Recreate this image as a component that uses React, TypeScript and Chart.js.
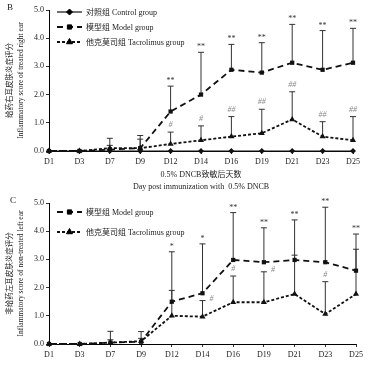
import React, { useEffect, useRef } from 'react';
import { Chart, registerables } from 'chart.js';
import { drawPoint } from 'chart.js/helpers';
Chart.register(...registerables);

const days = ['D1', 'D3', 'D7', 'D9', 'D12', 'D14', 'D16', 'D19', 'D21', 'D23', 'D25'];
const yTickValues = [0, 1, 2, 3, 4, 5];

// Panel B: treated right ear
const bControl = [0, 0, 0, 0, 0, 0, 0, 0, 0, 0, 0];
const bModel = [0, 0, 0.05, 0.1, 1.4, 2.0, 2.88, 2.78, 3.13, 2.88, 3.13];
const bModelSD = [0, 0, 0.4, 0.45, 0.9, 1.5, 0.9, 1.06, 1.36, 1.39, 1.22];
const bTac = [0, 0, 0.1, 0.1, 0.25, 0.38, 0.51, 0.63, 1.12, 0.51, 0.38];
const bTacSD = [0, 0, 0.1, 0.32, 0.42, 0.51, 0.71, 0.85, 0.98, 0.53, 0.84];
const bModelSig = ['', '', '', '', '**', '**', '**', '**', '**', '**', '**'];
const bTacSig = ['', '', '', '', '#', '#', '##', '##', '##', '##', '##'];

// Panel C: non-treated left ear
const cModel = [0, 0, 0.05, 0.08, 1.5, 1.8, 2.98, 2.9, 2.98, 2.9, 2.6];
const cModelSD = [0, 0, 0.4, 0.36, 1.77, 1.75, 1.68, 1.22, 1.42, 1.95, 1.3];
const cTac = [0, 0, 0.05, 0.1, 1.0, 0.97, 1.48, 1.48, 1.77, 1.06, 1.77];
const cTacSD = [0, 0, 0.1, 0.1, 0.9, 0.57, 0.93, 1.08, 1.38, 1.15, 1.59];
const cModelSig = ['', '', '', '', '*', '*', '**', '**', '**', '**', '**'];
const cTacSig = ['', '', '', '', '', '#', '#', '#', '', '#', ''];

const labelControl = '对照组 Control group';
const labelModel = '模型组 Model group';
const labelTac = '他克莫司组 Tacrolimus group';
const xTitle = ['0.5% DNCB致敏后天数', 'Day post immunization with  0.5% DNCB'];
const bYTitle = ['给药右耳皮肤炎症评分', 'Inflammatory score of treated right ear'];
const cYTitle = ['非给药左耳皮肤炎症评分', 'Inflammatory score of non-treated left ear'];

const FAMILY = '"Liberation Serif", "Noto Sans CJK SC", serif';

type Cfg = {
  letter: string;
  yTitle: string[];
  xTitle?: string[];
  errors: { ds: number; sd: number[] }[];
  modelDs: number;
  tacDs: number;
  modelSig: string[];
  tacSig: string[];
  legendRows: number[];
};

function makePlugin(cfg: Cfg) {
  return {
    id: 'annot',
    beforeDatasetsDraw(chart: any) {
      const ctx = chart.ctx;
      const ys = chart.scales.y;
      ctx.save();
      ctx.strokeStyle = '#333';
      ctx.lineWidth = 1;
      cfg.errors.forEach((e) => {
        const meta = chart.getDatasetMeta(e.ds);
        const vals = chart.data.datasets[e.ds].data as number[];
        meta.data.forEach((pt: any, j: number) => {
          if (!e.sd[j]) return;
          const top = ys.getPixelForValue(vals[j] + e.sd[j]);
          ctx.beginPath();
          ctx.moveTo(pt.x, pt.y);
          ctx.lineTo(pt.x, top);
          ctx.moveTo(pt.x - 3, top);
          ctx.lineTo(pt.x + 3, top);
          ctx.stroke();
        });
      });
      ctx.restore();
    },
    afterDatasetsDraw(chart: any) {
      const ctx = chart.ctx;
      const ys = chart.scales.y;
      const area = chart.chartArea;
      ctx.save();
      // significance marks
      ctx.textAlign = 'center';
      ctx.textBaseline = 'middle';
      ctx.font = `8px ${FAMILY}`;
      const mMeta = chart.getDatasetMeta(cfg.modelDs);
      const mVals = chart.data.datasets[cfg.modelDs].data as number[];
      const mSD = cfg.errors.find((e) => e.ds === cfg.modelDs)!.sd;
      cfg.modelSig.forEach((s, j) => {
        if (!s) return;
        const pt = mMeta.data[j];
        const top = ys.getPixelForValue(mVals[j] + mSD[j]);
        ctx.fillStyle = '#333';
        ctx.fillText(s, pt.x, top - 5);
      });
      const tMeta = chart.getDatasetMeta(cfg.tacDs);
      const tVals = chart.data.datasets[cfg.tacDs].data as number[];
      const tSD = cfg.errors.find((e) => e.ds === cfg.tacDs)!.sd;
      cfg.tacSig.forEach((s, j) => {
        if (!s) return;
        const pt = tMeta.data[j];
        const top = ys.getPixelForValue(tVals[j] + tSD[j]);
        let x = pt.x;
        let y = top - 7;
        if (Math.abs(y - mMeta.data[j].y) < 8) {
          x += 9;
          y = top - 2;
        }
        ctx.fillStyle = '#888';
        ctx.font = `italic 8px ${FAMILY}`;
        ctx.fillText(s, x, y);
      });

      // legend
      ctx.textAlign = 'left';
      ctx.textBaseline = 'middle';
      chart.data.datasets.forEach((ds: any, i: number) => {
        const y = cfg.legendRows[i];
        const x0 = area.left + 8;
        const x1 = x0 + 25;
        ctx.save();
        ctx.strokeStyle = ds.borderColor;
        ctx.lineWidth = ds.borderWidth;
        ctx.setLineDash(ds.borderDash || []);
        ctx.beginPath();
        ctx.moveTo(x0, y);
        ctx.lineTo(x1, y);
        ctx.stroke();
        ctx.restore();
        ctx.fillStyle = '#000';
        ctx.strokeStyle = '#000';
        ctx.lineWidth = 1;
        drawPoint(ctx, { pointStyle: ds.pointStyle, radius: ds.pointRadius, borderWidth: 1, rotation: 0 }, (x0 + x1) / 2, y);
        ctx.fillStyle = '#222';
        ctx.font = `8px ${FAMILY}`;
        ctx.fillText(ds.label, x1 + 4, y + 0.5);
      });

      // y title
      ctx.fillStyle = '#222';
      ctx.textAlign = 'center';
      ctx.textBaseline = 'middle';
      const cy = (area.top + area.bottom) / 2;
      ctx.save();
      ctx.translate(10.5, cy);
      ctx.rotate(-Math.PI / 2);
      ctx.font = `7.5px ${FAMILY}`;
      ctx.fillText(cfg.yTitle[0], 0, 0);
      ctx.fillText(cfg.yTitle[1], 0, 10.5);
      ctx.restore();

      // x title
      if (cfg.xTitle) {
        const cx = (area.left + area.right) / 2;
        ctx.font = `8px ${FAMILY}`;
        ctx.fillText(cfg.xTitle[0], cx, area.bottom + 24);
        ctx.fillText(cfg.xTitle[1], cx, area.bottom + 36);
      }

      // panel letter
      ctx.font = `9px ${FAMILY}`;
      ctx.textAlign = 'left';
      ctx.fillText(cfg.letter, cfg.letter === 'B' ? 7 : 10, area.top - 2);
      ctx.restore();
    },
  };
}

function makeOptions(padRight: number, padTop: number, xHeight: number) {
  const font = { family: FAMILY, size: 8 };
  return {
    responsive: false,
    animation: false as const,
    layout: { padding: { left: 0, right: padRight, top: padTop, bottom: 0 } },
    plugins: { legend: { display: false }, tooltip: { enabled: false } },
    scales: {
      x: {
        type: 'category' as const,
        offset: false,
        afterFit: (s: any) => { s.height = xHeight; },
        grid: { drawOnChartArea: false, drawTicks: true, tickLength: 3, color: '#000', lineWidth: 0.8 },
        border: { display: true, color: '#000', width: 1 },
        ticks: { font, color: '#222', maxRotation: 0, autoSkip: false, padding: 3 },
      },
      y: {
        type: 'linear' as const,
        min: yTickValues[0],
        max: yTickValues[yTickValues.length - 1],
        afterFit: (s: any) => { s.width = 49; },
        afterBuildTicks: (s: any) => { s.ticks = yTickValues.map((v) => ({ value: v })); },
        grid: { drawOnChartArea: false, drawTicks: true, tickLength: 3, color: '#000', lineWidth: 0.8 },
        border: { display: true, color: '#000', width: 1 },
        ticks: { font, color: '#222', padding: 2, callback: (v: any) => Number(v).toFixed(1) },
      },
    },
  };
}

const modelStyle = {
  borderColor: '#111', backgroundColor: '#111', borderWidth: 1.8, borderDash: [6, 4],
  pointStyle: 'rect', pointRadius: 3, pointBorderWidth: 0, tension: 0, clip: false,
};
const tacStyle = {
  borderColor: '#111', backgroundColor: '#111', borderWidth: 1.8, borderDash: [3, 2],
  pointStyle: 'triangle', pointRadius: 3.5, pointBorderWidth: 0, tension: 0, clip: false,
};
const controlStyle = {
  borderColor: '#111', backgroundColor: '#111', borderWidth: 1.2, borderDash: [],
  pointStyle: 'rectRot', pointRadius: 3, pointBorderWidth: 0, tension: 0, clip: false,
};

function Panel({ which }: { which: 'B' | 'C' }) {
  const ref = useRef<HTMLCanvasElement>(null);
  useEffect(() => {
    if (!ref.current) return;
    let chart: Chart;
    if (which === 'B') {
      chart = new Chart(ref.current, {
        type: 'line',
        data: {
          labels: days,
          datasets: [
            { label: labelControl, data: bControl, ...controlStyle } as any,
            { label: labelModel, data: bModel, ...modelStyle } as any,
            { label: labelTac, data: bTac, ...tacStyle } as any,
          ],
        },
        options: makeOptions(25, 10, 45) as any,
        plugins: [makePlugin({
          letter: 'B', yTitle: bYTitle, xTitle, modelDs: 1, tacDs: 2,
          errors: [{ ds: 1, sd: bModelSD }, { ds: 2, sd: bTacSD }],
          modelSig: bModelSig, tacSig: bTacSig, legendRows: [12, 27, 42],
        })],
      });
    } else {
      chart = new Chart(ref.current, {
        type: 'line',
        data: {
          labels: days,
          datasets: [
            { label: labelModel, data: cModel, ...modelStyle } as any,
            { label: labelTac, data: cTac, ...tacStyle } as any,
          ],
        },
        options: makeOptions(22, 7, 22) as any,
        plugins: [makePlugin({
          letter: 'C', yTitle: cYTitle, modelDs: 0, tacDs: 1,
          errors: [{ ds: 0, sd: cModelSD }, { ds: 1, sd: cTacSD }],
          modelSig: cModelSig, tacSig: cTacSig, legendRows: [16, 36],
        })],
      });
    }
    return () => chart.destroy();
  }, [which]);
  return <canvas ref={ref} width={378} height={which === 'B' ? 196 : 170} style={{ display: 'block', width: 378, height: which === 'B' ? 196 : 170 }} />;
}

export default function App() {
  return (
    <div style={{ position: 'absolute', left: 0, top: 0, width: 378, height: 366, background: '#fff' }}>
      <Panel which="B" />
      <Panel which="C" />
    </div>
  );
}
